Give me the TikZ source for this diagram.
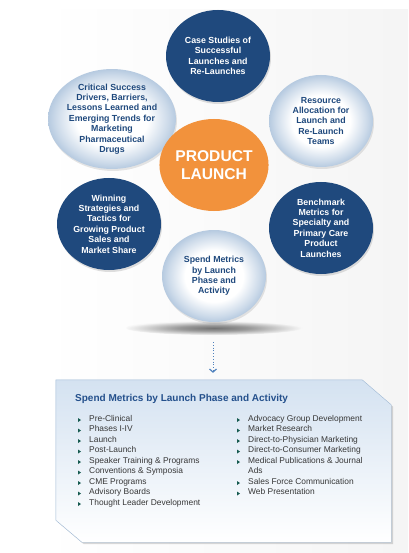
\documentclass[tikz,border=0pt]{standalone}
\usepackage{fontspec}
\setmainfont{Liberation Sans}
\usepackage{tikz}
\usetikzlibrary{shapes, arrows, arrows.meta, positioning, shadows}
\definecolor{darkblue}{RGB}{31,73,125}
\definecolor{launchorange}{RGB}{242,146,60}
\definecolor{ringblue}{RGB}{182,202,224}
\definecolor{boxtop}{RGB}{212,226,241}
\definecolor{boxline}{RGB}{160,186,214}
\definecolor{titleblue}{RGB}{36,80,140}
\definecolor{itemgray}{RGB}{55,55,55}
\definecolor{bulletgreen}{RGB}{22,90,80}
\definecolor{arrowblue}{RGB}{79,129,189}
\pgfdeclareradialshading{topicring}{\pgfpoint{0bp}{0bp}}{color(0bp)=(white); color(14bp)=(white); color(22bp)=(ringblue!70); color(25bp)=(ringblue); color(50bp)=(ringblue)}
\pgfdeclareradialshading{floorshadow}{\pgfpoint{0bp}{0bp}}{color(0bp)=(black!55); color(10bp)=(black!40); color(25bp)=(black!3); color(50bp)=(black!3)}
\tikzstyle{topic} = [ellipse, minimum width=104pt, minimum height=92pt, inner sep=0pt, align=center, font=\bfseries\fontsize{8.8}{10.4}\selectfont]
\tikzstyle{darktopic} = [topic, fill=darkblue, text=white, drop shadow={opacity=0.25, shadow xshift=1pt, shadow yshift=-2pt}]
\tikzstyle{lighttopic} = [topic, shading=topicring, text=darkblue, drop shadow={opacity=0.2, shadow xshift=1pt, shadow yshift=-2pt}]
\tikzstyle{hub} = [topic, fill=launchorange, text=white, font=\bfseries\fontsize{15.6}{18}\selectfont]
\tikzstyle{item} = [anchor=base west, inner sep=0pt, text=itemgray, font=\fontsize{8.4}{10}\selectfont]
\tikzstyle{boxtitle} = [anchor=base west, inner sep=0pt, text=titleblue, font=\bfseries\fontsize{10}{12}\selectfont]

\begin{document}
\begin{tikzpicture}[x=1pt, y=-1pt]
	\useasboundingbox (0,0) rectangle (408,553);
	\shade[left color=white, right color=black!4] (43,10) rectangle (408,553);
	\shade[shading=floorshadow] (214,328) ellipse (88 and 7);
	\node[darktopic] (casestudies) at (218,56) {Case Studies of\\Successful\\Launches and\\Re-Launches};
	\node[lighttopic] (critical) at (112,119) {Critical Success\\Drivers, Barriers,\\Lessons Learned and\\Emerging Trends for\\Marketing\\Pharmaceutical\\Drugs};
	\node[lighttopic] (resource) at (321,121) {Resource\\Allocation for\\Launch and\\Re-Launch\\Teams};
	\node[darktopic] (winning) at (109,224) {Winning\\Strategies and\\Tactics for\\Growing Product\\Sales and\\Market Share};
	\node[darktopic] (benchmark) at (321,228) {Benchmark\\Metrics for\\Specialty and\\Primary Care\\Product\\Launches};
	\node[lighttopic] (spend) at (214,276) {Spend Metrics\\by Launch\\Phase and\\Activity};
	\node[hub] (launch) at (214,165) {PRODUCT\\LAUNCH};
	\node[minimum width=335pt, minimum height=162pt, inner sep=0pt] (box) at (223.5,461) {};
	\shade[top color=boxtop, bottom color=white, draw=boxline, drop shadow={opacity=0.3, shadow xshift=2pt, shadow yshift=-2pt}]
		(box.north west) -- ([xshift=-29pt]box.north east) -- ([yshift=-25pt]box.north east) -- (box.south east)
		-- ([xshift=26pt]box.south west) -- ([yshift=22pt]box.south west) -- cycle;
	\coordinate (arrowstart) at (213,342);
	\draw[arrowblue, thick, dotted, -{Straight Barb[length=3pt, width=7pt, line width=1.2pt]}, shorten >=7pt] (arrowstart) -- (arrowstart |- box.north);
	\node[boxtitle] (title) at (75,401) {Spend Metrics by Launch Phase and Activity};
	\foreach \txt [count=\i] in {Pre-Clinical, Phases I-IV, Launch, Post-Launch, Speaker Training \& Programs, Conventions \& Symposia, CME Programs, Advisory Boards, Thought Leader Development}{
		\node[item] (left\i) at (89,{421+10.5*(\i-1)}) {\txt};
		\fill[bulletgreen] ([xshift=-11pt, yshift=-1pt]left\i.base west) -- ++(0,-4) -- ++(3,2) -- cycle;
	}
	\foreach \n/\txt in {0/Advocacy Group Development, 1/Market Research, 2/Direct-to-Physician Marketing, 3/Direct-to-Consumer Marketing, 4/Medical Publications \& Journal, 6/Sales Force Communication, 7/Web Presentation}{
		\node[item] (right\n) at (248,{421+10.5*\n}) {\txt};
		\fill[bulletgreen] ([xshift=-11pt, yshift=-1pt]right\n.base west) -- ++(0,-4) -- ++(3,2) -- cycle;
	}
	\node[item] (right5) at (248,{421+10.5*5}) {Ads};
\end{tikzpicture}
\end{document}
